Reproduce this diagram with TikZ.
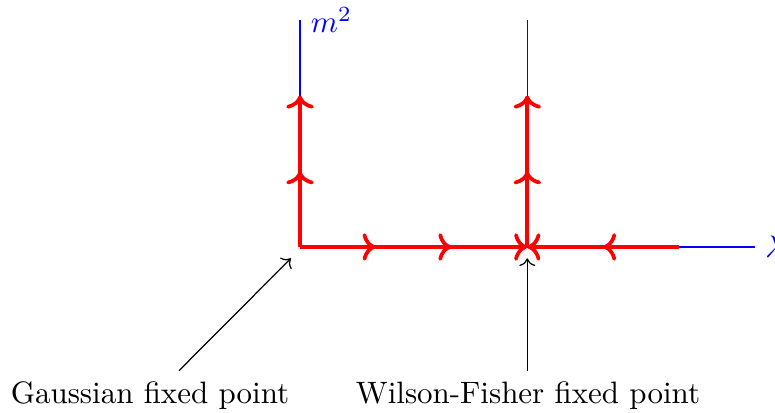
\documentclass[tikz,border=0pt]{standalone}
\usepackage{amsmath,amssymb}
\usepackage{xcolor}
\usepackage{tikz}
\usetikzlibrary{arrows.meta,positioning,calc,decorations.markings}
\tikzset{
    eixo/.style={blue, thin},
    fluxoRG/.style={red, very thick, ->},
    marcaUm/.style={postaction={decorate}, decoration={markings, mark=at position 0.5 with {\arrow{>}}}},
    marcaDois/.style={postaction={decorate}, decoration={markings, mark=at position 0.3333 with {\arrow{>}}, mark=at position 0.6667 with {\arrow{>}}}},
    rotulo/.style={align=center, font=\normalsize},
    seta/.style={->, black, thin}
}

\begin{document}
\begin{tikzpicture}[x=0.86cm, y=0.86cm]

        \useasboundingbox (-3.96,-2.19) rectangle (6.27,3.26);

        % pontos fixos
        \coordinate (G) at (0,0);
        \coordinate (WF) at (3,0);

        \coordinate (mtopo) at (0,3);
        \coordinate (wtopo) at (3,3);
        \coordinate (lfim) at (6,0);
        \coordinate (rfim) at (5,0);
        \coordinate (gcima) at (0,2);
        \coordinate (wcima) at (3,2);

        % eixos
        \draw[eixo] (G) -- (mtopo) node[right, text=blue] (m2) {$m^2$};
        \draw[eixo] (WF) -- (wtopo);
        \draw[eixo] (G) -- (lfim) node[right, text=blue] (lam) {$\lambda$};

        % fluxo
        \draw[fluxoRG, marcaUm] (G) -- (gcima);
        \draw[fluxoRG, marcaUm] (WF) -- (wcima);
        \draw[fluxoRG, marcaDois] (G) -- (WF);
        \draw[fluxoRG, marcaUm] (rfim) -- (WF);

        % rotulos
        \node[rotulo] (gauss) at (-1.98,-1.96) {Gaussian fixed point};
        \node[rotulo] (wilson) at (3.01,-1.96) {Wilson-Fisher fixed point};

        \draw[seta] ([xshift=0.33cm]gauss.north) -- ($(G)+(-0.12,-0.15)$);
        \draw[seta] (wilson.north -| WF) -- ($(WF)+(0,-0.15)$);

    \end{tikzpicture}
\end{document}
